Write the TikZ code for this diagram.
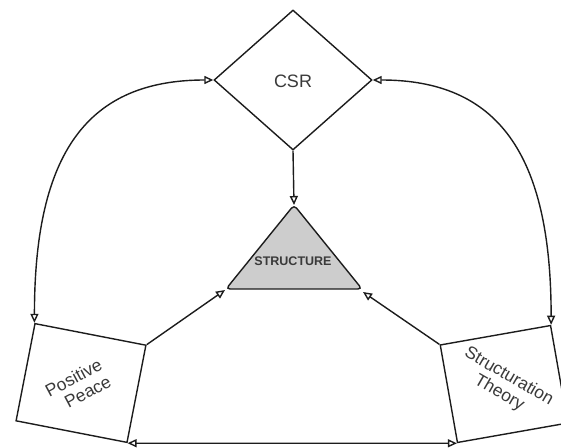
\documentclass[tikz,border=0pt]{standalone}
\usepackage{fontspec}
\setmainfont{Liberation Sans}
\usetikzlibrary{shapes.geometric,arrows.meta}
\definecolor{ink}{HTML}{1C1C1C}
\definecolor{txt}{HTML}{3A3A3A}
\definecolor{tri}{HTML}{CDCDCD}
\tikzset{
  tip/.tip={Triangle[open,length=9pt,width=8pt]},
  conn/.style={draw=ink, line width=1.4pt, -tip},
  biconn/.style={draw=ink, line width=1.4pt, tip-tip},
  shapebox/.style={draw=ink, line width=1.4pt, fill=white, inner sep=0pt},
  lbl/.style={text=txt, font=\fontsize{17.5}{19}\selectfont, inner sep=0pt}
}
\begin{document}
\begin{tikzpicture}[x=1pt,y=-1pt]
\useasboundingbox (0,0) rectangle (561,447);
\clip (0,0) rectangle (561,447);
% CSR diamond
\node[shapebox, diamond, minimum width=158pt, minimum height=140pt] (csr) at (293,80) {};
\node[text=txt, font=\fontsize{18}{21}\selectfont, inner sep=0pt] (csrt) at (293,81) {CSR};
% structure triangle
\coordinate (tT) at (294,205);
\coordinate (tR) at (362,289);
\coordinate (tL) at (226,289);
\coordinate (tLa) at (225,290);
\coordinate (tRa) at (363,292);
\draw[draw=ink, line width=1.4pt, fill=tri, rounded corners=4pt] (tT) -- (tR) -- (tL) -- cycle;
\node[text=txt, font=\bfseries\fontsize{12.5}{14}\selectfont, inner sep=0pt] (structt) at (293,261) {STRUCTURE};
% squares
\node[shapebox, rectangle, minimum width=113pt, minimum height=99pt, rotate=-11] (pp) at (81,383) {};
\node[lbl, rotate=28, align=right] (ppt) at (78,386) {Positive\\Peace};
\node[shapebox, rectangle, minimum width=112pt, minimum height=99pt, rotate=10] (st) at (504,384) {};
\node[lbl, rotate=-30, align=center] (stt) at (504,385) {Structuration\\Theory};
% connectors
\draw[conn] (csr.south) -- (tT);
\draw[conn] (pp.north east) -- (tLa);
\draw[conn] (st.north west) -- (tRa);
\draw[biconn] (csr.west) .. controls +(-125,0) and +(0,-171) .. (pp.north west);
\draw[biconn] (csr.east) .. controls +(125,0) and +(0,-171) .. (st.north east);
\draw[biconn] (pp.south east) -- (st.south west);
\end{tikzpicture}
\end{document}
